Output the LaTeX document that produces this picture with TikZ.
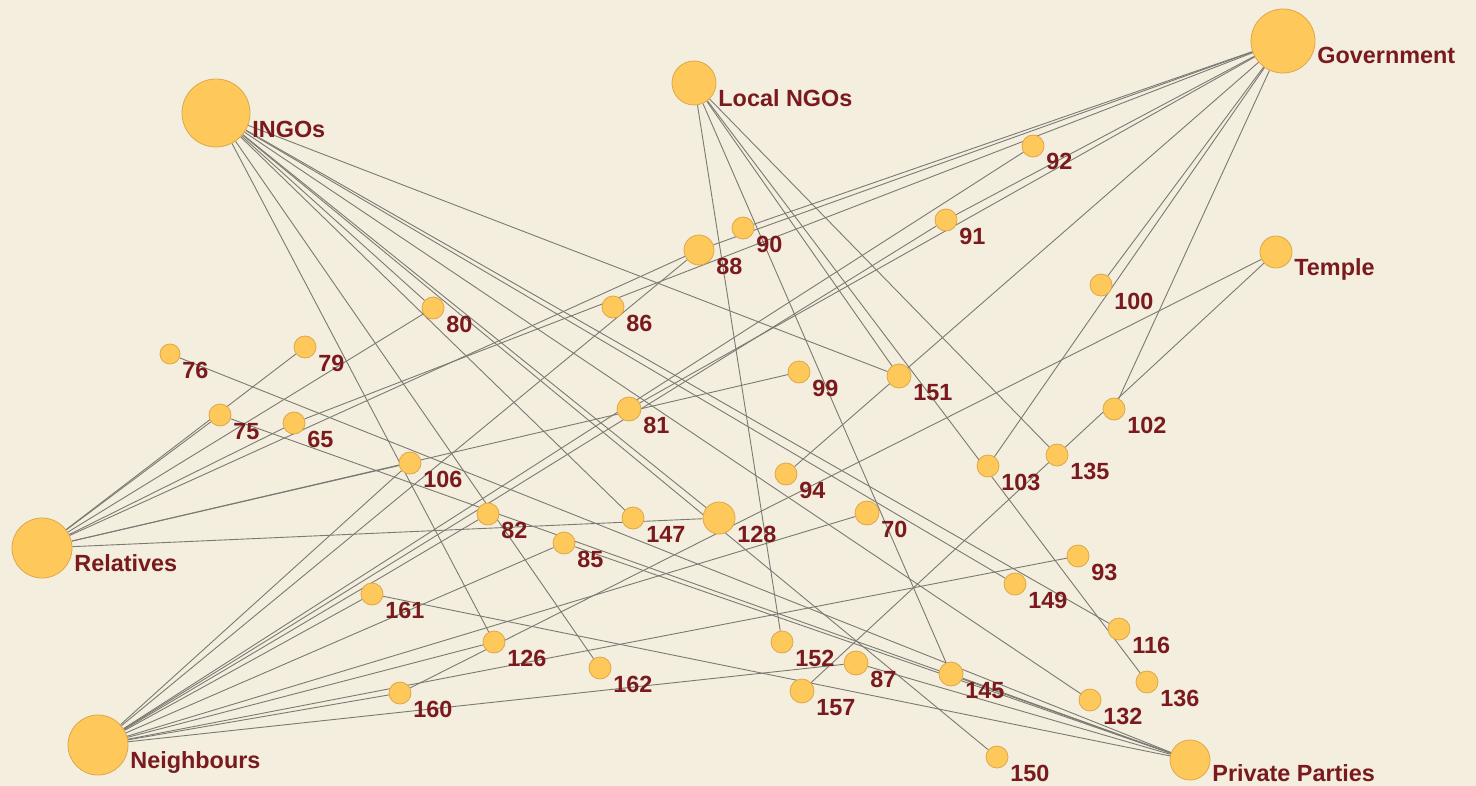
\documentclass[tikz,border=0pt]{standalone}
\usepackage{fontspec}
\setmainfont{Liberation Sans}
\usetikzlibrary{backgrounds}

\definecolor{paper}{RGB}{243,238,221}
\definecolor{nodefill}{RGB}{255,200,90}
\definecolor{nodeline}{RGB}{222,168,72}
\definecolor{linkgray}{RGB}{122,122,116}
\definecolor{labelred}{RGB}{122,26,30}

\begin{document}
\begin{tikzpicture}[
		x=0.5pt, y=-0.5pt,
		hub/.style={
			circle,
			draw=nodeline,
			fill=nodefill,
			line width=0.4pt,
			inner sep=0pt
		},
		hh/.style={hub},
		lbl/.style={
			anchor=base west,
			inner sep=0pt,
			text=labelred,
			font=\fontsize{11.7}{13}\selectfont\bfseries
		},
		link/.style={draw=linkgray, line width=0.45pt}
		]
		
		\useasboundingbox (0,0) rectangle (1476,786);
		
		% Actors (big circles)
		\foreach \n/\x/\y/\r/\dy/\t in {
			ingos/216/113/34/25/INGOs,
			lngo/694/83/22/24/Local NGOs,
			govt/1283/41/32/23/Government,
			temple/1276/252/16/23/Temple,
			rel/42/548/30/23/Relatives,
			nbr/98/745/30/23/Neighbours,
			priv/1190/760/20/21/Private Parties}
		{
			\node[hub, minimum size=\r pt] (\n) at (\x,\y) {};
			\node[lbl] (l\n) at (\x+\r+2,\y+\dy) {\t};
		}
		
		% Households (small circles)
		\foreach \n/\x/\y/\r in {
			65/294/423/11, 70/867/513/12, 75/220/415/11, 76/170/354/10,
			79/305/347/11, 80/433/308/11, 81/629/409/12, 82/488/514/11,
			85/564/543/11, 86/613/307/11, 87/856/663/12, 88/699/250/15,
			90/743/228/11, 91/946/220/11, 92/1033/146/11, 93/1078/556/11,
			94/786/474/11, 99/799/372/11, 100/1101/285/11, 102/1114/409/11,
			103/988/466/11, 106/410/463/11, 116/1119/629/11, 126/494/642/11,
			128/719/518/16, 132/1090/700/11, 135/1057/455/11, 136/1147/682/11,
			145/951/674/12, 147/633/518/11, 149/1015/584/11, 150/997/757/11,
			151/899/376/12, 152/782/642/11, 157/802/691/12, 160/400/693/11,
			161/372/594/11, 162/600/668/11}
		{
			\node[hh, minimum size=\r pt] (h\n) at (\x,\y) {};
			\node[lbl] (l\n) at (\x+\r+2,\y+24) {\n};
		}
		
		% Ties, drawn under the circles
		\begin{scope}[on background layer]
			\fill[paper] (0,0) rectangle (1476,786);
			\foreach \a/\b in {
				ingos/h80, ingos/h126, ingos/h162, ingos/h147, ingos/h128,
				ingos/h150, ingos/h132, ingos/h149, ingos/h116, ingos/h151,
				lngo/h152, lngo/h145, lngo/h135, lngo/h136, lngo/h151,
				govt/h90, govt/h88, govt/h65, govt/h91, govt/h81,
				govt/h94, govt/h100, govt/h103, govt/h102,
				temple/h157, temple/h160,
				rel/h75, rel/h79, rel/h65, rel/h80, rel/h106,
				rel/h99, rel/h128, rel/h88,
				nbr/h88, nbr/h92, nbr/h91, nbr/h106, nbr/h85, nbr/h70,
				nbr/h93, nbr/h87, nbr/h126, nbr/h160, nbr/h82, nbr/h161,
				priv/h76, priv/h75, priv/h85, priv/h87, priv/h161, priv/h145}
			\draw[link] (\a) -- (\b);
		\end{scope}
		
		\end{tikzpicture}
\end{document}
